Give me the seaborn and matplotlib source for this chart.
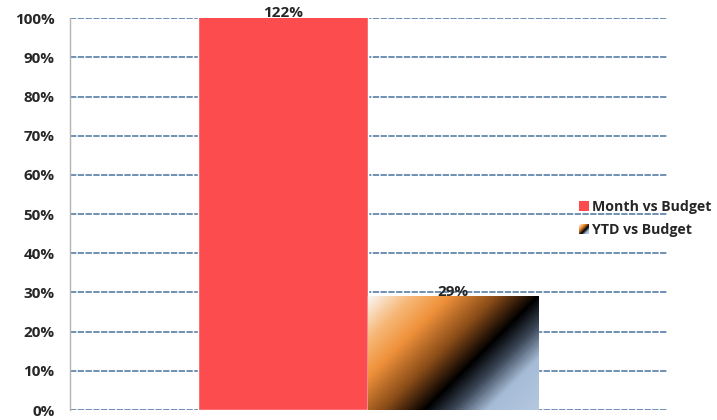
import numpy as np
import pandas as pd
import matplotlib
matplotlib.use("Agg")
import matplotlib.pyplot as plt
import seaborn as sns
from matplotlib.colors import LinearSegmentedColormap
from matplotlib.legend_handler import HandlerBase
from matplotlib.patches import Rectangle
from matplotlib.image import BboxImage
from matplotlib.transforms import Bbox, TransformedBbox
from matplotlib.ticker import MultipleLocator, FuncFormatter

series = ["Month vs Budget", "YTD vs Budget"]
values = [122, 29]
bar_colors = ["#fc4c4e", "#e08a3a"]

sns.set_style("white")
plt.rcParams["font.family"] = ["Open Sans", "DejaVu Sans"]
plt.rcParams["font.weight"] = "bold"

grad_cmap = LinearSegmentedColormap.from_list(
    "ytd", [(0.0, "#faf6f2"), (0.15, "#f6b878"), (0.28, "#f0923c"),
            (0.45, "#8a4c18"), (0.6, "#000000"), (0.7, "#3a4656"),
            (0.82, "#a6bbd6"), (1.0, "#b4c8e0")])

df = pd.DataFrame({"group": [""] * len(series), "series": series, "value": values})

fig = plt.figure(figsize=(7.17, 4.2), dpi=100)
ax = fig.add_axes([0.0976, 0.0238, 0.832, 0.933])

sns.barplot(data=df, x="group", y="value", hue="series", palette=bar_colors,
            width=0.57, gap=0, saturation=1, ax=ax, legend=False, zorder=3)

ax.set_ylim(0, 100)
ax.set_xlim(-0.5, 0.5)
ax.yaxis.set_major_locator(MultipleLocator(10))
ax.yaxis.set_major_formatter(FuncFormatter(lambda v, p: f"{v:.0f}%"))
ax.set_xlabel("")
ax.set_ylabel("")
ax.set_xticks([])
ax.tick_params(axis="y", labelsize=11, length=3, color="#9a9a9a", pad=8)
for lab in ax.get_yticklabels():
    lab.set_fontweight("bold")
ax.grid(axis="y", color="#6488ae", linewidth=1.3, linestyle=(0, (3.5, 0.8)), zorder=0)
ax.set_axisbelow(True)
for side in ["top", "right", "bottom"]:
    ax.spines[side].set_visible(False)
ax.spines["left"].set_color("#b4b4b4")
ax.spines["left"].set_linewidth(1.0)

# gradient fill for the YTD bar, clipped to the bar itself
patches = sorted(ax.patches, key=lambda p: p.get_x())
ytd = patches[1]
x0, w, h = ytd.get_x(), ytd.get_width(), ytd.get_height()
ny, nx = 120, 180
yy, xx = np.mgrid[0:ny, 0:nx]
t = (xx + yy) / (nx + ny - 2)
ax.imshow(t, cmap=grad_cmap, extent=[x0, x0 + w, 0, h], origin="upper",
          aspect="auto", zorder=4, clip_path=ytd, clip_on=True)
ax.set_xlim(-0.5, 0.5)
ax.set_ylim(0, 100)

top = ax.get_ylim()[1]
for p, v in zip(patches, values):
    ax.text(p.get_x() + p.get_width() / 2, min(p.get_height(), top) - 0.6,
            f"{v}%", ha="center", va="bottom", fontsize=11, fontweight="bold",
            clip_on=False, zorder=5)


class GradientHandler(HandlerBase):
    def create_artists(self, legend, orig_handle, xdescent, ydescent,
                       width, height, fontsize, trans):
        bb = TransformedBbox(Bbox.from_bounds(-xdescent, -ydescent, width, height), trans)
        img = BboxImage(bb, cmap=grad_cmap, interpolation="bilinear")
        img.set_data(np.add.outer(np.arange(10), np.arange(10)) / 18.0)
        return [img]


h_month = Rectangle((0, 0), 1, 1, facecolor=bar_colors[0], edgecolor="none")
h_ytd = Rectangle((0, 0), 1, 1, facecolor=bar_colors[1], edgecolor="none")
fig.legend([h_month, h_ytd], series, loc="upper left",
           bbox_to_anchor=(0.8, 0.537), frameon=False,
           handlelength=0.7, handleheight=0.7, handletextpad=0.2,
           labelspacing=0.62, borderaxespad=0,
           prop={"size": 10.2, "weight": "bold"},
           handler_map={h_ytd: GradientHandler()})

fig.savefig("out.png", dpi=100)
